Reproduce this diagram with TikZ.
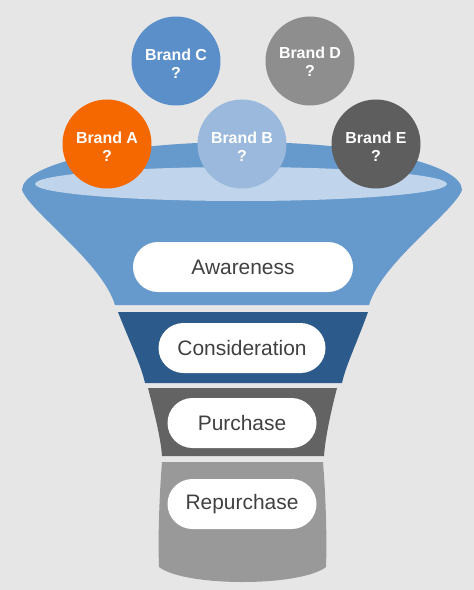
\documentclass[tikz,border=0pt]{standalone}
\usepackage{fontspec}
\setmainfont{Liberation Sans}
\definecolor{bgGray}{RGB}{230,230,230}
\definecolor{funnelBlue}{RGB}{102,153,204}
\definecolor{rimBlue}{RGB}{192,213,236}
\definecolor{darkBlue}{RGB}{43,90,139}
\definecolor{midGray}{RGB}{99,99,99}
\definecolor{lightGray}{RGB}{153,153,153}
\definecolor{txtGray}{RGB}{64,64,64}
\definecolor{brandOrange}{RGB}{245,104,0}
\definecolor{brandBlue}{RGB}{91,143,201}
\definecolor{brandPale}{RGB}{155,185,220}
\definecolor{brandGray}{RGB}{142,142,142}
\definecolor{brandDark}{RGB}{94,94,94}

\begin{document}
\begin{tikzpicture}[x=1bp,y=-1bp,
    brand/.style={circle,minimum size=89bp,inner sep=0pt},
    brandtext/.style={text=white,align=center,inner sep=0pt,font=\fontsize{16}{18}\selectfont\bfseries},
    stage/.style={fill=white,rounded corners=25bp,minimum height=50bp,inner sep=0pt,text=txtGray,font=\fontsize{21}{24}\selectfont}]
    \fill[bgGray] (0,0) rectangle (474,590);

    % Funnel
    \fill[funnelBlue] (22,190) .. controls (22,163.5) and (120.5,142) .. (242,142)
        .. controls (363.5,142) and (462,163.5) .. (462,190)
        .. controls (454,212) and (382,262) .. (369,305) -- (115,305)
        .. controls (102,262) and (30,212) .. (22,190) -- cycle;
    \fill[rimBlue] (241,184) ellipse [x radius=206, y radius=17];
    \fill[darkBlue] (118,312) -- (368,312) .. controls (356,345) and (346,365) .. (342,383)
        -- (145,383) .. controls (141,365) and (131,345) .. (118,312) -- cycle;
    \fill[midGray] (148,388) -- (337,388) .. controls (330,415) and (325,440) .. (324,456)
        -- (162,456) .. controls (161,440) and (155,415) .. (148,388) -- cycle;
    \fill[lightGray] (162,462) -- (323,462) .. controls (326,500) and (327,540) .. (326,567)
        .. controls (300,587) and (185,587) .. (159,567)
        .. controls (158,540) and (159,500) .. (162,462) -- cycle;

    % Stages
    \node[stage,minimum width=220bp] (Aw) at (243,267) {Awareness};
    \node[stage,minimum width=167bp] (Co) at (242,348) {Consideration};
    \node[stage,minimum width=149bp] (Pu) at (242,423) {Purchase};
    \node[stage,minimum width=149bp] (Re) at (242,504) {Repurchase};

    % Brands
    \node[brand,fill=brandBlue,label={[brandtext,yshift=-3bp]center:{Brand C\\?}}] (C) at (176,61) {};
    \node[brand,fill=brandGray,label={[brandtext,yshift=-1bp]center:{Brand D\\?}}] (D) at (310,61) {};
    \node[brand,fill=brandOrange,label={[brandtext,yshift=-3bp]center:{Brand A\\?}}] (A) at (107,144) {};
    \node[brand,fill=brandPale,label={[brandtext,yshift=-3bp]center:{Brand B\\?}}] (B) at (242,144) {};
    \node[brand,fill=brandDark,label={[brandtext,yshift=-3bp]center:{Brand E\\?}}] (E) at (376,144) {};
\end{tikzpicture}
\end{document}
